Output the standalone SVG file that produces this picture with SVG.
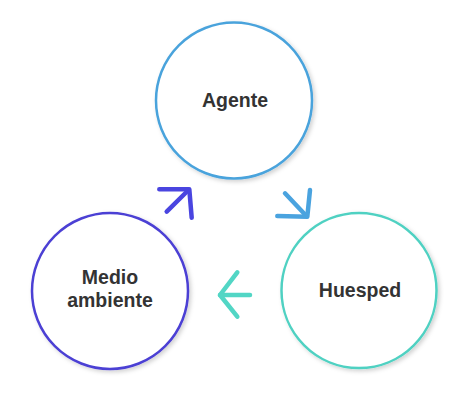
<svg xmlns="http://www.w3.org/2000/svg" width="474" height="404" viewBox="0 0 474 404">
  <defs>
    <filter id="sh" x="-20%" y="-20%" width="140%" height="140%">
      <feDropShadow dx="2" dy="2" stdDeviation="2" flood-color="#000" flood-opacity="0.18"/>
    </filter>
  </defs>
  <style>
    .node circle { fill: #ffffff; stroke-width: 2.5; filter: url(#sh); }
    .lbl { font-family: "Liberation Sans", Arial, sans-serif; font-weight: bold; font-size: 19.5px; fill: #333333; text-anchor: middle; }
    .arr { fill: none; stroke-width: 4.5; stroke-linecap: round; stroke-linejoin: round; }
  </style>
  <rect width="474" height="404" fill="#ffffff"/>
  <g id="agente" class="node">
    <circle cx="234" cy="100.5" r="78" stroke="#4aa3dc"/>
    <text class="lbl" x="235" y="106.5">Agente</text>
  </g>
  <g id="huesped" class="node">
    <circle cx="359" cy="290.5" r="77.5" stroke="#4fd1c2"/>
    <text class="lbl" x="360" y="297">Huesped</text>
  </g>
  <g id="medio-ambiente" class="node">
    <circle cx="110" cy="291" r="78" stroke="#4b3fd4"/>
    <text class="lbl" x="110" y="283.5">Medio</text>
    <text class="lbl" x="110" y="307">ambiente</text>
  </g>
  <g id="connectors">
    <g stroke="#4a45e0" class="arr">
      <line x1="166.7" y1="211.7" x2="188" y2="190.5"/>
      <polyline points="159.3,189.3 189.3,189.3 191.7,217.7"/>
    </g>
    <g stroke="#4aa3df" class="arr">
      <line x1="285" y1="193.3" x2="305" y2="214.5"/>
      <polyline points="310,190 307.3,216.7 277.3,216"/>
    </g>
    <g stroke="#52d6c5" class="arr">
      <line x1="220" y1="295" x2="250" y2="295"/>
      <polyline points="237.3,272.3 220,295 237.3,316.7"/>
    </g>
  </g>
</svg>
